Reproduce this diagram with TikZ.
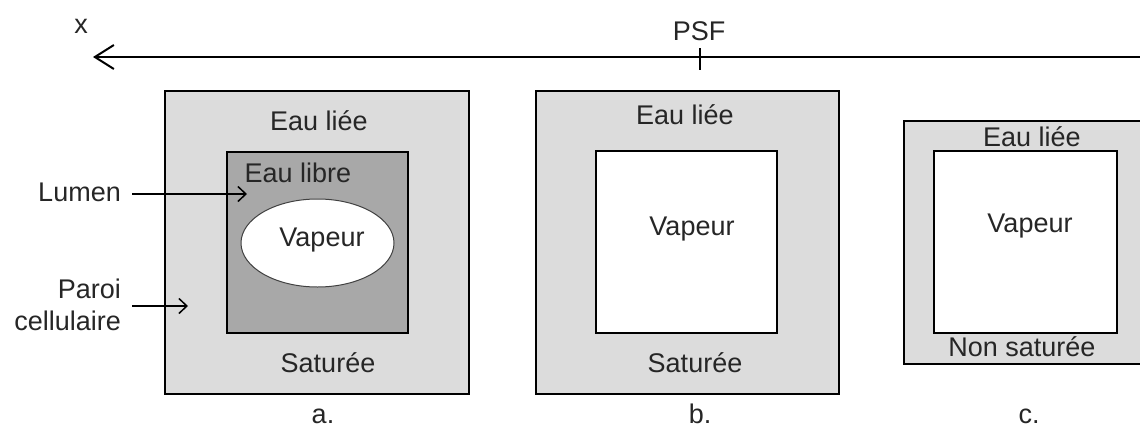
\documentclass[tikz,border=0pt]{standalone}
\usepackage{fontspec}
\setmainfont{Liberation Sans}
\usetikzlibrary{shapes.geometric,arrows.meta}
\definecolor{wallgray}{RGB}{220,220,220}
\definecolor{lumengray}{RGB}{168,168,168}
\tikzset{
  cell/.style={draw,fill=wallgray,line width=2pt,inner sep=0pt,outer sep=0pt},
  cavity/.style={draw,line width=2pt,inner sep=0pt,outer sep=0pt},
  lbl/.style={anchor=base,inner sep=0pt,text=black!85,font=\fontsize{27}{32}\selectfont},
  pointer/.style={draw,line width=1.5pt,shorten <=11pt,-{Straight Barb[length=8pt,width=15pt,line width=1.5pt]}},
}
\begin{document}
\begin{tikzpicture}[x=1pt,y=-1pt]
\clip (0,0) rectangle (1140,434);

% axis
\coordinate (axR) at (1140,57);
\coordinate (axL) at (93,57);
\coordinate (tickT) at (700,48);
\coordinate (tickB) at (700,70);
\path[draw,line width=2pt,-{Straight Barb[length=19pt,width=24pt,line width=2pt]}] (axR) -- (axL);
\path[draw,line width=1.5pt] (tickT) -- (tickB);
\node[lbl] (xTxt) at (81,33) {x};
\node[lbl] (psf) at (699,40) {PSF};

% cell a
\node[cell,minimum width=304pt,minimum height=303pt] (wallA) at (317,242.5) {};
\node[cavity,fill=lumengray,minimum width=181pt,minimum height=181pt] (lumenA) at (317.5,242.5) {};
\node[draw=black!75,fill=white,ellipse,line width=1pt,inner sep=0pt,minimum width=153pt,minimum height=88pt] (vapA) at (317.5,243) {};
\node[lbl] (boundA) at (319,130) {Eau liée};
\node[lbl] (freeA) at (298,182) {Eau libre};
\node[lbl] (vapTxtA) at (322,246) {Vapeur};
\node[lbl] (satA) at (328,372) {Saturée};
\node[lbl] (capA) at (323,423) {a.};

% labels on the left
\node[lbl,anchor=base east] (lumenTxt) at (121,201) {Lumen};
\node[lbl,anchor=base east,align=right] (paroiTxt) at (121,330) {Paroi\\cellulaire};
\coordinate (lumenTip) at (247,194);
\coordinate (paroiTip) at (188,306);
\path[pointer] (lumenTxt.east |- lumenTip) -- (lumenTip);
\path[pointer] (paroiTxt.east |- paroiTip) -- (paroiTip);

% cell b
\node[cell,minimum width=303pt,minimum height=303pt] (wallB) at (687.5,242.5) {};
\node[cavity,fill=white,minimum width=181pt,minimum height=182pt] (lumenB) at (686.5,242) {};
\node[lbl] (boundB) at (685,124) {Eau liée};
\node[lbl] (vapTxtB) at (692,235) {Vapeur};
\node[lbl] (satB) at (695,372) {Saturée};
\node[lbl] (capB) at (700,423) {b.};

% cell c
\node[cell,minimum width=243pt,minimum height=243pt] (wallC) at (1025.5,242.5) {};
\node[cavity,fill=white,minimum width=183pt,minimum height=182pt] (lumenC) at (1025.5,242) {};
\node[lbl] (boundC) at (1032,146) {Eau liée};
\node[lbl] (vapTxtC) at (1030,232) {Vapeur};
\node[lbl] (satC) at (1022,356) {Non saturée};
\node[lbl] (capC) at (1029,423) {c.};
\end{tikzpicture}
\end{document}
